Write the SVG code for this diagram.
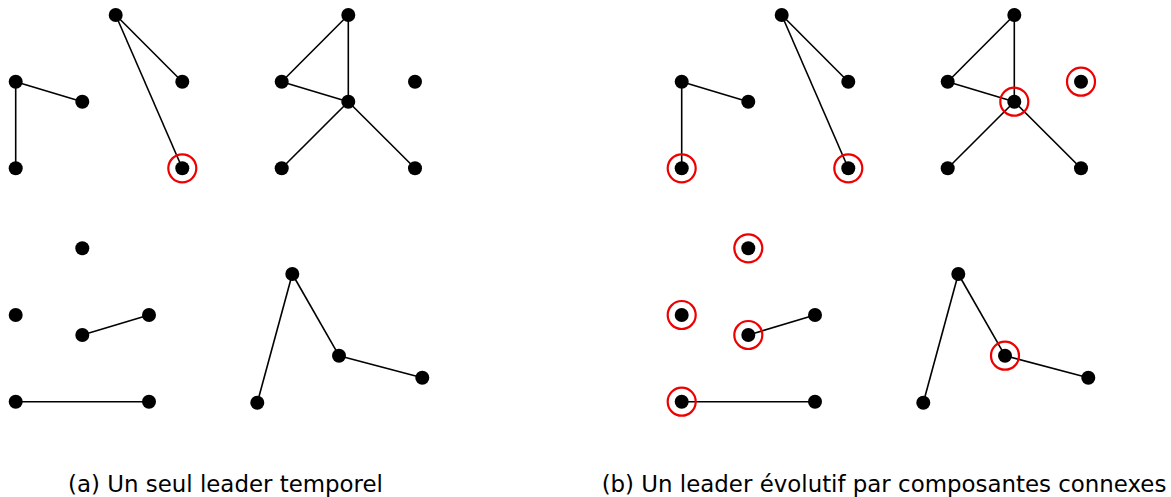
<svg xmlns="http://www.w3.org/2000/svg" width="1171" height="497" viewBox="0 0 1171 497">
<style>
.e{stroke:#000;stroke-width:1.6;fill:none}
.n{fill:#000}
.h{fill:none;stroke:#e00;stroke-width:2.2}
.t{font-family:"DejaVu Sans",sans-serif;font-size:22.9px;fill:#000;text-anchor:middle}
</style>
<defs>
<circle id="d" r="7" class="n"/>
<circle id="r" r="14" class="h"/>
</defs>
<rect width="1171" height="497" fill="#fff"/>
<g id="connectors">
<g id="ea">
<line class="e" x1="15.7" y1="81.7" x2="82.3" y2="101.7"/>
<line class="e" x1="15.7" y1="81.7" x2="15.7" y2="168.3"/>
<line class="e" x1="115.7" y1="15" x2="182.3" y2="81.7"/>
<line class="e" x1="115.7" y1="15" x2="182.3" y2="168.3"/>
<line class="e" x1="348.3" y1="15" x2="281.7" y2="81.7"/>
<line class="e" x1="348.3" y1="15" x2="348.3" y2="101.7"/>
<line class="e" x1="281.7" y1="81.7" x2="348.3" y2="101.7"/>
<line class="e" x1="348.3" y1="101.7" x2="281.7" y2="168.3"/>
<line class="e" x1="348.3" y1="101.7" x2="415" y2="168.3"/>
<line class="e" x1="82.3" y1="335" x2="149" y2="315"/>
<line class="e" x1="15.7" y1="401.7" x2="149" y2="401.7"/>
<line class="e" x1="292.3" y1="274" x2="257.3" y2="402.7"/>
<line class="e" x1="292.3" y1="274" x2="339" y2="355.7"/>
<line class="e" x1="339" y1="355.7" x2="422.3" y2="377.7"/>
</g>
<g id="eb" transform="translate(666,0)">
<line class="e" x1="15.7" y1="81.7" x2="82.3" y2="101.7"/>
<line class="e" x1="15.7" y1="81.7" x2="15.7" y2="168.3"/>
<line class="e" x1="115.7" y1="15" x2="182.3" y2="81.7"/>
<line class="e" x1="115.7" y1="15" x2="182.3" y2="168.3"/>
<line class="e" x1="348.3" y1="15" x2="281.7" y2="81.7"/>
<line class="e" x1="348.3" y1="15" x2="348.3" y2="101.7"/>
<line class="e" x1="281.7" y1="81.7" x2="348.3" y2="101.7"/>
<line class="e" x1="348.3" y1="101.7" x2="281.7" y2="168.3"/>
<line class="e" x1="348.3" y1="101.7" x2="415" y2="168.3"/>
<line class="e" x1="82.3" y1="335" x2="149" y2="315"/>
<line class="e" x1="15.7" y1="401.7" x2="149" y2="401.7"/>
<line class="e" x1="292.3" y1="274" x2="257.3" y2="402.7"/>
<line class="e" x1="292.3" y1="274" x2="339" y2="355.7"/>
<line class="e" x1="339" y1="355.7" x2="422.3" y2="377.7"/>
</g>
</g>
<g id="panel-a">
<g id="a1"><use href="#d" x="15.7" y="81.7"/></g>
<g id="a2"><use href="#d" x="82.3" y="101.7"/></g>
<g id="a3"><use href="#d" x="15.7" y="168.3"/></g>
<g id="a4"><use href="#d" x="115.7" y="15"/></g>
<g id="a5"><use href="#d" x="182.3" y="81.7"/></g>
<g id="a6"><use href="#d" x="182.3" y="168.3"/><use href="#r" x="182.3" y="168.3"/></g>
<g id="a7"><use href="#d" x="348.3" y="15"/></g>
<g id="a8"><use href="#d" x="281.7" y="81.7"/></g>
<g id="a9"><use href="#d" x="348.3" y="101.7"/></g>
<g id="a10"><use href="#d" x="415" y="81.7"/></g>
<g id="a11"><use href="#d" x="281.7" y="168.3"/></g>
<g id="a12"><use href="#d" x="415" y="168.3"/></g>
<g id="a13"><use href="#d" x="82.3" y="248.3"/></g>
<g id="a14"><use href="#d" x="15.7" y="315"/></g>
<g id="a15"><use href="#d" x="82.3" y="335"/></g>
<g id="a16"><use href="#d" x="149" y="315"/></g>
<g id="a17"><use href="#d" x="15.7" y="401.7"/></g>
<g id="a18"><use href="#d" x="149" y="401.7"/></g>
<g id="a19"><use href="#d" x="292.3" y="274"/></g>
<g id="a20"><use href="#d" x="257.3" y="402.7"/></g>
<g id="a21"><use href="#d" x="339" y="355.7"/></g>
<g id="a22"><use href="#d" x="422.3" y="377.7"/></g>
</g>
<g id="panel-b" transform="translate(666,0)">
<g id="b1"><use href="#d" x="15.7" y="81.7"/></g>
<g id="b2"><use href="#d" x="82.3" y="101.7"/></g>
<g id="b3"><use href="#d" x="15.7" y="168.3"/><use href="#r" x="15.7" y="168.3"/></g>
<g id="b4"><use href="#d" x="115.7" y="15"/></g>
<g id="b5"><use href="#d" x="182.3" y="81.7"/></g>
<g id="b6"><use href="#d" x="182.3" y="168.3"/><use href="#r" x="182.3" y="168.3"/></g>
<g id="b7"><use href="#d" x="348.3" y="15"/></g>
<g id="b8"><use href="#d" x="281.7" y="81.7"/></g>
<g id="b9"><use href="#d" x="348.3" y="101.7"/><use href="#r" x="348.3" y="101.7"/></g>
<g id="b10"><use href="#d" x="415" y="81.7"/><use href="#r" x="415" y="81.7"/></g>
<g id="b11"><use href="#d" x="281.7" y="168.3"/></g>
<g id="b12"><use href="#d" x="415" y="168.3"/></g>
<g id="b13"><use href="#d" x="82.3" y="248.3"/><use href="#r" x="82.3" y="248.3"/></g>
<g id="b14"><use href="#d" x="15.7" y="315"/><use href="#r" x="15.7" y="315"/></g>
<g id="b15"><use href="#d" x="82.3" y="335"/><use href="#r" x="82.3" y="335"/></g>
<g id="b16"><use href="#d" x="149" y="315"/></g>
<g id="b17"><use href="#d" x="15.7" y="401.7"/><use href="#r" x="15.7" y="401.7"/></g>
<g id="b18"><use href="#d" x="149" y="401.7"/></g>
<g id="b19"><use href="#d" x="292.3" y="274"/></g>
<g id="b20"><use href="#d" x="257.3" y="402.7"/></g>
<g id="b21"><use href="#d" x="339" y="355.7"/><use href="#r" x="339" y="355.7"/></g>
<g id="b22"><use href="#d" x="422.3" y="377.7"/></g>
</g>
<g id="captions">
<text class="t" x="225.5" y="492">(a) Un seul leader temporel</text>
<text class="t" x="884" y="492">(b) Un leader évolutif par composantes connexes</text>
</g>
</svg>
